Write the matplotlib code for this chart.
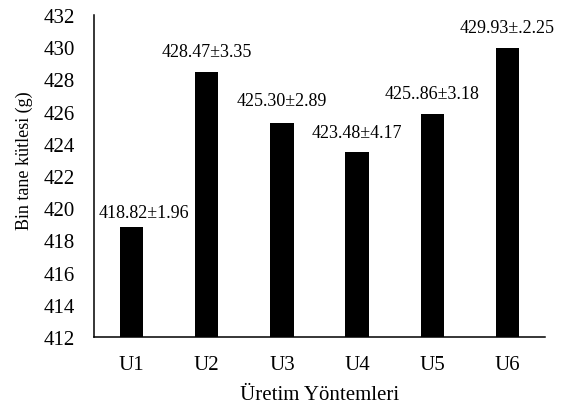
import matplotlib
matplotlib.use("Agg")
import matplotlib.pyplot as plt
import numpy as np

# -------------------------------------------------------------------------
# Chart data
# -------------------------------------------------------------------------
categories = ["U1", "U2", "U3", "U4", "U5", "U6"]
means = [418.82, 428.47, 425.30, 423.48, 425.86, 429.93]
value_labels = [
    "418.82±1.96",
    "428.47±3.35",
    "425.30±2.89",
    "423.48±4.17",
    "425..86±3.18",
    "429.93±.2.25",
]
y_ticks = list(range(412, 433, 2))

# -------------------------------------------------------------------------
# Style settings
# -------------------------------------------------------------------------
FONT = ["Liberation Serif", "DejaVu Serif"]
BAR_COLOR = "#000000"
BAR_WIDTH = 0.31
# label offsets from each bar top (points), hand placed like the source
LABEL_OFFSETS = [(9, 7), (0, 11.5), (0, 13), (0, 11), (0, 11.3), (0, 11.5)]

plt.rcParams["font.family"] = FONT


def draw_chart():
    fig = plt.figure(figsize=(5.66, 4.10), dpi=100)
    ax = fig.add_axes([94 / 566, 1 - 338 / 410, 451 / 566, 322 / 410])

    x = np.arange(len(categories))
    bars = ax.bar(x, means, width=BAR_WIDTH, color=BAR_COLOR, zorder=3)

    for bar, text, (dx, dy) in zip(bars, value_labels, LABEL_OFFSETS):
        ax.annotate(
            text,
            xy=(bar.get_x() + bar.get_width() / 2, bar.get_height()),
            xytext=(dx, dy),
            textcoords="offset points",
            ha="center",
            va="baseline",
            fontsize=13,
            color="black",
        )

    ax.set_xlim(-0.5, len(categories) - 0.5)
    ax.set_ylim(y_ticks[0], y_ticks[-1])
    ax.set_yticks(y_ticks)
    ax.set_xticks(x)
    ax.set_xticklabels(categories)

    ax.tick_params(axis="both", length=0, labelsize=15)
    ax.tick_params(axis="x", pad=13)
    ax.tick_params(axis="y", pad=13.5)

    for side in ("top", "right"):
        ax.spines[side].set_visible(False)
    for side in ("left", "bottom"):
        ax.spines[side].set_linewidth(1.1)
        ax.spines[side].set_color("black")

    ax.set_xlabel("Üretim Yöntemleri", fontsize=15, labelpad=8)
    ax.set_ylabel("Bin tane kütlesi (g)", fontsize=13)
    ax.yaxis.set_label_coords(-0.135, 0.55)

    fig.savefig("out.png", dpi=100)


if __name__ == "__main__":
    draw_chart()
